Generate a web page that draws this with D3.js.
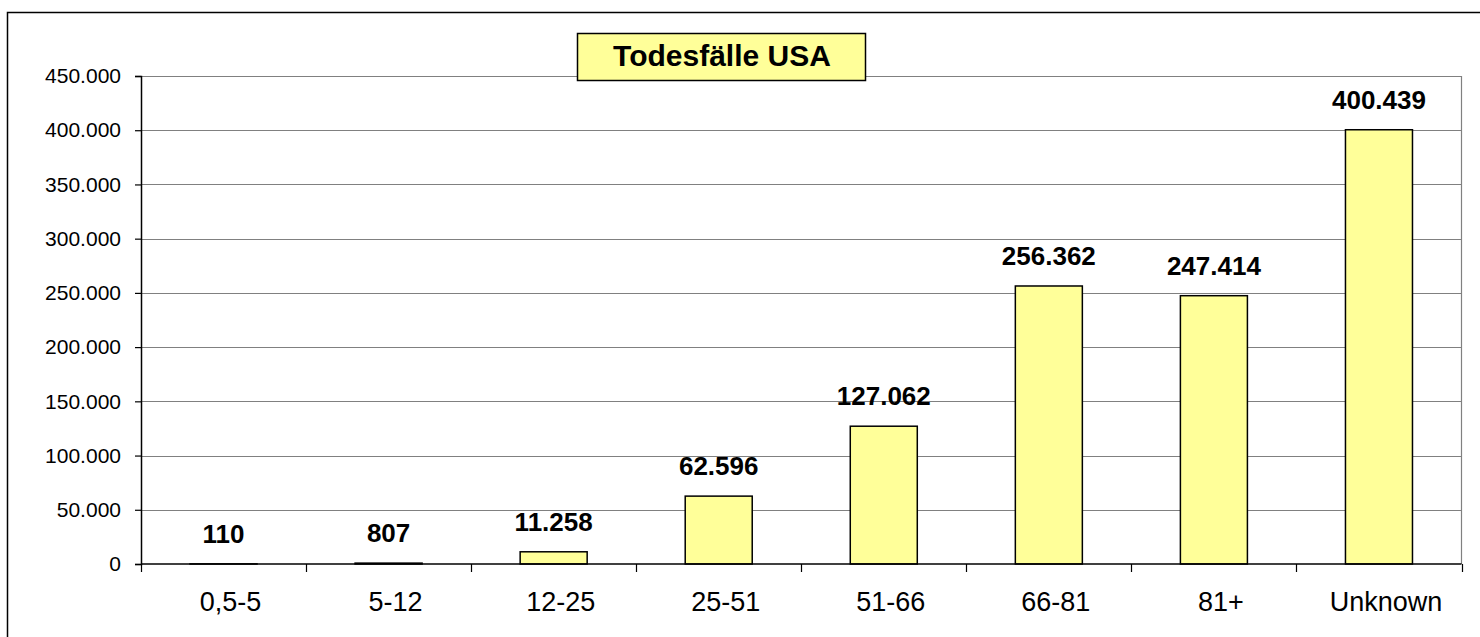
<!DOCTYPE html>
<html>
<head>
<meta charset="utf-8">
<script src="https://cdn.jsdelivr.net/npm/d3@7"></script>
<style>
  body { margin: 0; background: #fff; }
  svg { display: block; font-family: "Liberation Sans", Arial, sans-serif; }
</style>
</head>
<body>
<div id="chart"></div>
<script>
// Data
const categories = ["0,5-5", "5-12", "12-25", "25-51", "51-66", "66-81", "81+", "Unknown"];
const deaths = [110, 807, 11258, 62596, 127062, 256362, 247414, 400439];
const yTicks = [0, 50000, 100000, 150000, 200000, 250000, 300000, 350000, 400000, 450000];
const title = "Todesfälle USA";

// Chart constants
const w = 1480;
const h = 637;
const plotLeft = 141, plotRight = 1461.5, plotTop = 76, plotBottom = 564;
const barRatio = 0.406;

// german number format (dot as thousands separator)
const de = d3.formatLocale({decimal: ",", thousands: ".", grouping: [3], currency: ["", " €"]});
const fmt = de.format(",d");

const svg = d3.select("#chart")
              .append("svg")
              .attr("width", w)
              .attr("height", h);

// outer frame (runs off the right and bottom edge)
svg.append("rect")
   .attr("x", 7.5)
   .attr("y", 12.5)
   .attr("width", w)
   .attr("height", h)
   .attr("fill", "none")
   .attr("stroke", "#000")
   .attr("stroke-width", 1.5);

// scales
const x = d3.scaleBand()
            .domain(categories)
            .range([plotLeft, plotRight])
            .padding(0);
const y = d3.scaleLinear()
            .domain([0, 450000])
            .range([plotBottom, plotTop]);

// gridlines
svg.append("g")
   .selectAll("line")
   .data(yTicks.slice(1))
   .enter()
   .append("line")
   .attr("x1", plotLeft)
   .attr("x2", plotRight)
   .attr("y1", d => Math.round(y(d)) + 0.5)
   .attr("y2", d => Math.round(y(d)) + 0.5)
   .attr("stroke", "#808080")
   .attr("stroke-width", 1);

// right border of plot area
svg.append("line")
   .attr("x1", plotRight).attr("x2", plotRight)
   .attr("y1", plotTop).attr("y2", plotBottom)
   .attr("stroke", "#808080")
   .attr("stroke-width", 1.2);

// y axis
const yAxis = d3.axisLeft(y)
                .tickValues(yTicks)
                .tickFormat(fmt)
                .tickSize(6)
                .tickPadding(14);
const yg = svg.append("g")
              .attr("transform", "translate(" + plotLeft + ",0)")
              .call(yAxis);
yg.select(".domain").attr("stroke", "#000").attr("stroke-width", 1.5);
yg.selectAll(".tick line").attr("stroke", "#000").attr("stroke-width", 1.2);
yg.selectAll(".tick text")
  .attr("fill", "#000")
  .style("font-size", "21px")
  .style("font-family", "'Liberation Sans', Arial, sans-serif");

// bars
const bw = x.bandwidth() * barRatio;
svg.append("g")
   .selectAll("rect")
   .data(deaths)
   .enter()
   .append("rect")
   .attr("x", (d, i) => x(categories[i]) + (x.bandwidth() - bw) / 2)
   .attr("y", d => y(d))
   .attr("width", bw)
   .attr("height", d => plotBottom - y(d))
   .attr("fill", "#FFFF99")
   .attr("stroke", "#000")
   .attr("stroke-width", 1.5);

// x axis line and ticks at band boundaries
svg.append("line")
   .attr("x1", plotLeft).attr("x2", plotRight)
   .attr("y1", plotBottom).attr("y2", plotBottom)
   .attr("stroke", "#000")
   .attr("stroke-width", 1.5);
const bounds = categories.map(c => x(c)).concat([plotRight]);
svg.append("g")
   .selectAll("line")
   .data(bounds)
   .enter()
   .append("line")
   .attr("x1", d => Math.round(d) + 0.5)
   .attr("x2", d => Math.round(d) + 0.5)
   .attr("y1", plotBottom)
   .attr("y2", plotBottom + 8)
   .attr("stroke", "#000")
   .attr("stroke-width", 1.2);

// x labels (sit a little right of the band centre, like the original)
svg.append("g")
   .selectAll("text")
   .data(categories)
   .enter()
   .append("text")
   .text(d => d)
   .attr("x", d => x(d) + x.bandwidth() / 2 + 7)
   .attr("y", 611)
   .attr("text-anchor", "middle")
   .style("font-size", "27px");

// value labels
svg.append("g")
   .selectAll("text")
   .data(deaths)
   .enter()
   .append("text")
   .text(d => fmt(d))
   .attr("x", (d, i) => x(categories[i]) + x.bandwidth() / 2)
   .attr("y", d => y(d) - 21)
   .attr("text-anchor", "middle")
   .style("font-size", "26px")
   .style("font-weight", "bold");

// title box
const tb = svg.append("g");
tb.append("rect")
  .attr("x", 577.5)
  .attr("y", 33.5)
  .attr("width", 288)
  .attr("height", 47)
  .attr("fill", "#FFFF99")
  .attr("stroke", "#000")
  .attr("stroke-width", 1.5);
tb.append("text")
  .text(title)
  .attr("x", 722)
  .attr("y", 66)
  .attr("text-anchor", "middle")
  .style("font-size", "30px")
  .style("font-weight", "bold");
</script>
</body>
</html>
